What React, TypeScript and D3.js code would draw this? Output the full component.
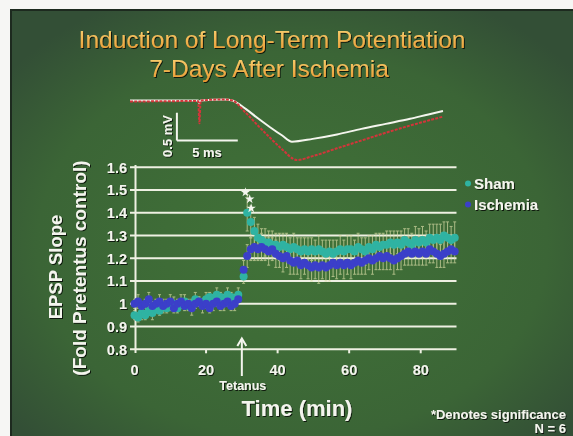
import React from "react";
import * as d3 from "d3";

// ---------- data ----------
const yTicks = [0.8, 0.9, 1.0, 1.1, 1.2, 1.3, 1.4, 1.5, 1.6];
const yTickLabels = ["0.8", "0.9", "1", "1.1", "1.2", "1.3", "1.4", "1.5", "1.6"];
const xTicks = [0, 20, 40, 60, 80];

const times = [
  0, 1, 2, 3, 4, 5, 6, 7, 8, 9, 10, 11, 12, 13, 14, 15, 16, 17, 18, 19,
  20, 21, 22, 23, 24, 25, 26, 27, 28, 29,
  30.5, 31.5, 32.5, 33.5, 34.5, 35.5, 36.5, 37.5, 38.5, 39.5,
  40.5, 41.5, 42.5, 43.5, 44.5, 45.5, 46.5, 47.5, 48.5, 49.5,
  50.5, 51.5, 52.5, 53.5, 54.5, 55.5, 56.5, 57.5, 58.5, 59.5,
  60.5, 61.5, 62.5, 63.5, 64.5, 65.5, 66.5, 67.5, 68.5, 69.5,
  70.5, 71.5, 72.5, 73.5, 74.5, 75.5, 76.5, 77.5, 78.5, 79.5,
  80.5, 81.5, 82.5, 83.5, 84.5, 85.5, 86.5, 87.5, 88.5, 89.5,
];

const shamValues = [
  0.95, 0.94, 0.96, 0.95, 0.97, 0.96, 0.98, 0.97, 0.99, 0.98,
  0.99, 1.0, 0.98, 1.0, 1.01, 0.99, 1.0, 1.02, 1.01, 1.0,
  1.02, 1.03, 1.02, 1.04, 1.03, 1.02, 1.04, 1.03, 1.02, 1.04,
  1.12, 1.4, 1.36, 1.32, 1.29, 1.28, 1.27, 1.27, 1.26, 1.26,
  1.25, 1.26, 1.25, 1.24, 1.25, 1.24, 1.23, 1.24, 1.23, 1.24,
  1.23, 1.24, 1.23, 1.22, 1.23, 1.22, 1.23, 1.24, 1.23, 1.24,
  1.24, 1.23, 1.25, 1.24, 1.23, 1.25, 1.24, 1.26, 1.25, 1.26,
  1.26, 1.27, 1.26, 1.27, 1.26, 1.28, 1.27, 1.26, 1.28, 1.27,
  1.28, 1.27, 1.29, 1.28, 1.29, 1.28, 1.3, 1.29, 1.28, 1.29,
];

const ischemiaValues = [
  1.0, 1.01, 0.99, 1.0, 1.02, 0.99, 1.0, 1.01, 0.99, 1.0,
  1.01, 0.98, 1.0, 1.01, 0.99, 1.0, 0.98, 1.0, 1.01, 0.99,
  1.0, 0.98, 1.0, 1.01, 0.99, 1.0, 1.01, 0.99, 1.0, 1.02,
  1.15, 1.21, 1.24, 1.25, 1.24, 1.25, 1.24, 1.23, 1.24, 1.22,
  1.21, 1.2, 1.21, 1.19, 1.18, 1.19, 1.17, 1.18, 1.17, 1.16,
  1.17, 1.16, 1.17, 1.16, 1.17, 1.18, 1.17, 1.18, 1.17, 1.18,
  1.17, 1.18, 1.19, 1.18, 1.19, 1.2, 1.19, 1.2, 1.21, 1.2,
  1.21, 1.2, 1.19, 1.2, 1.21, 1.22, 1.23, 1.22, 1.23, 1.22,
  1.23, 1.22, 1.24, 1.23, 1.22, 1.21, 1.22, 1.23, 1.24, 1.23,
];

const shamSem = [
  0.02, 0.02, 0.03, 0.02, 0.02, 0.03, 0.02, 0.02, 0.03, 0.02,
  0.02, 0.03, 0.02, 0.02, 0.03, 0.02, 0.02, 0.03, 0.02, 0.02,
  0.03, 0.02, 0.02, 0.03, 0.02, 0.02, 0.03, 0.02, 0.02, 0.03,
  0.03, 0.08, 0.07, 0.06, 0.06, 0.05, 0.06, 0.05, 0.06, 0.05,
  0.06, 0.05, 0.06, 0.05, 0.06, 0.05, 0.06, 0.05, 0.06, 0.05,
  0.05, 0.06, 0.05, 0.06, 0.05, 0.06, 0.05, 0.06, 0.05, 0.06,
  0.06, 0.05, 0.06, 0.05, 0.06, 0.05, 0.06, 0.05, 0.06, 0.05,
  0.06, 0.05, 0.06, 0.05, 0.06, 0.05, 0.06, 0.05, 0.06, 0.06,
  0.06, 0.05, 0.06, 0.07, 0.06, 0.07, 0.06, 0.07, 0.06, 0.07,
];

const ischemiaSem = [
  0.02, 0.03, 0.02, 0.02, 0.03, 0.02, 0.02, 0.03, 0.02, 0.02,
  0.03, 0.02, 0.02, 0.03, 0.02, 0.02, 0.03, 0.02, 0.02, 0.03,
  0.02, 0.02, 0.03, 0.02, 0.02, 0.03, 0.02, 0.02, 0.03, 0.02,
  0.04, 0.05, 0.05, 0.06, 0.05, 0.06, 0.05, 0.06, 0.05, 0.06,
  0.05, 0.06, 0.05, 0.06, 0.05, 0.06, 0.06, 0.05, 0.06, 0.06,
  0.06, 0.07, 0.06, 0.06, 0.07, 0.06, 0.06, 0.05, 0.06, 0.05,
  0.06, 0.05, 0.06, 0.05, 0.06, 0.05, 0.06, 0.05, 0.06, 0.05,
  0.06, 0.05, 0.06, 0.05, 0.06, 0.05, 0.06, 0.05, 0.06, 0.05,
  0.06, 0.05, 0.06, 0.05, 0.06, 0.05, 0.06, 0.05, 0.06, 0.05,
];

const starTimes = [31.0, 32.2, 32.6];
const starValues = [1.49, 1.46, 1.42];

const tetanusTime = 30;

// example field potential traces (ms, mV)
const traceControlMs = [0, 5.6, 5.7, 5.8, 7.8, 8.4, 9.5, 10.5, 11.5, 12.5, 13.3, 15, 17, 19, 21, 23, 24.5, 25.7];
const traceControlMv = [0, 0, -0.05, 0, 0.02, 0, -0.15, -0.32, -0.48, -0.63, -0.74, -0.69, -0.61, -0.51, -0.42, -0.33, -0.25, -0.19];
const tracePostMs = [0, 5.6, 5.7, 5.8, 7.8, 8.4, 9.5, 10.5, 11.5, 12.5, 13.7, 15, 17, 19, 21, 23, 24.5, 25.7];
const tracePostMv = [-0.02, -0.01, -0.41, 0, 0.02, 0, -0.22, -0.45, -0.67, -0.88, -1.07, -1.0, -0.86, -0.72, -0.58, -0.45, -0.36, -0.29];

const legendLabels = ["Sham", "Ischemia"];

const SHAM = "#2fb3a2";
const ISCH = "#3b3fc9";
const WHITE = "#f4f5ee";

export default function App() {
  const W = 573;
  const H = 436;

  const x = d3.scaleLinear().domain([0, 90]).range([134.5, 456.5]);
  const y = d3.scaleLinear().domain([0.8, 1.6]).range([349.3, 167.3]);

  const trX = d3.scaleLinear().domain([0, 25.7]).range([130, 443]);
  const trY = d3.scaleLinear().domain([0, -1.07]).range([100.5, 160]);
  const traceLine = d3
    .line<[number, number]>()
    .x((d) => trX(d[0]))
    .y((d) => trY(d[1]))
    .curve(d3.curveMonotoneX);
  const ctrlPts = traceControlMs.map((t, i) => [t, traceControlMv[i]] as [number, number]);
  const postPts = tracePostMs.map((t, i) => [t, tracePostMv[i]] as [number, number]);

  const star = d3.symbol().type(d3.symbolStar).size(28)() as string;

  const sans = "'Liberation Sans', Arial, sans-serif";

  const series = [
    { vals: shamValues, sem: shamSem, color: SHAM },
    { vals: ischemiaValues, sem: ischemiaSem, color: ISCH },
  ];

  return (
    <svg width={W} height={H} style={{ position: "absolute", left: 0, top: 0 }} fontFamily={sans}>
      <defs>
        <radialGradient id="bg" cx="50%" cy="55%" r="65%">
          <stop offset="0%" stopColor="#417338" />
          <stop offset="70%" stopColor="#3b6536" />
          <stop offset="100%" stopColor="#334f36" />
        </radialGradient>
        <linearGradient id="gold" x1="0" y1="0" x2="0" y2="1">
          <stop offset="0%" stopColor="#fbd677" />
          <stop offset="100%" stopColor="#e8962e" />
        </linearGradient>
        <filter id="sh" x="-10%" y="-10%" width="120%" height="130%">
          <feDropShadow dx="1" dy="1" stdDeviation="0.6" floodColor="#000" floodOpacity="0.75" />
        </filter>
      </defs>

      {/* page frame */}
      <rect x={0} y={0} width={W} height={H} fill="#f6f6f4" />
      <rect x={10} y={9} width={W - 10} height={H - 9} fill="#1d2a1f" />
      <rect x={12} y={11} width={W - 12} height={H - 11} fill="url(#bg)" />

      {/* title */}
      <g filter="url(#sh)" fontSize={24.5} fill="url(#gold)" textAnchor="middle">
        <text x={272} y={48}>Induction of Long-Term Potentiation</text>
        <text x={269} y={77}>7-Days After Ischemia</text>
      </g>

      {/* traces */}
      <path d={traceLine(ctrlPts) || ""} fill="none" stroke={WHITE} strokeWidth={2} />
      <path
        d={traceLine(postPts) || ""}
        fill="none"
        stroke="#d2353a"
        strokeWidth={2}
        strokeDasharray="3 1.2"
      />
      {/* scale bar */}
      <g stroke={WHITE} strokeWidth={2} fill="none">
        <line x1={trX(3.85)} x2={trX(3.85)} y1={trY(-0.22)} y2={trY(-0.72)} />
        <line x1={trX(3.85)} x2={trX(3.85 + 5)} y1={trY(-0.72)} y2={trY(-0.72)} />
      </g>
      <g filter="url(#sh)" fill={WHITE} fontWeight="bold" fontSize={13}>
        <text transform={`translate(${172},${136}) rotate(-90)`} textAnchor="middle">0.5 mV</text>
        <text x={207} y={157} textAnchor="middle">5 ms</text>
      </g>

      {/* grid lines */}
      <g stroke="#eef0e2" strokeWidth={2}>
        {yTicks.map((t) => (
          <line key={t} x1={130} x2={x(90)} y1={y(t)} y2={y(t)} />
        ))}
        <line x1={135.5} x2={135.5} y1={165} y2={353} />
        {xTicks.slice(1).map((t) => (
          <line key={t} x1={x(t)} x2={x(t)} y1={y(0.8)} y2={y(0.8) + 4} />
        ))}
      </g>

      {/* error bars */}
      <g stroke="#d9dca6" strokeWidth={1} opacity={0.7}>
        {series.map((s, si) =>
          s.vals.map((v, i) => (
            <g key={`${si}-${i}`}>
              <line x1={x(times[i])} x2={x(times[i])} y1={y(v - s.sem[i])} y2={y(v + s.sem[i])} />
              <line x1={x(times[i]) - 1.5} x2={x(times[i]) + 1.5} y1={y(v + s.sem[i])} y2={y(v + s.sem[i])} />
              <line x1={x(times[i]) - 1.5} x2={x(times[i]) + 1.5} y1={y(v - s.sem[i])} y2={y(v - s.sem[i])} />
            </g>
          ))
        )}
      </g>

      {/* points */}
      {series.map((s, si) => (
        <g key={si} fill={s.color}>
          {s.vals.map((v, i) => (
            <circle key={i} cx={x(times[i])} cy={y(v)} r={4} />
          ))}
        </g>
      ))}

      {/* significance stars */}
      <g fill={WHITE}>
        {starTimes.map((t, i) => (
          <path key={i} d={star} transform={`translate(${x(t)},${y(starValues[i])})`} />
        ))}
      </g>

      {/* tick labels */}
      <g filter="url(#sh)" fill={WHITE} fontWeight="bold" fontSize={14.5}>
        {yTicks.map((t, i) => (
          <text key={t} x={127} y={y(t)} dy="0.36em" textAnchor="end">
            {yTickLabels[i]}
          </text>
        ))}
        {xTicks.map((t) => (
          <text key={t} x={x(t)} y={375} textAnchor="middle">
            {t}
          </text>
        ))}
      </g>

      {/* axis titles */}
      <g filter="url(#sh)" fill={WHITE} fontWeight="bold">
        <text transform={`translate(${62},${267}) rotate(-90)`} textAnchor="middle" fontSize={18.5}>
          EPSP Slope
        </text>
        <text transform={`translate(${86},${268}) rotate(-90)`} textAnchor="middle" fontSize={19}>
          (Fold Pretentus control)
        </text>
        <text x={297} y={416} textAnchor="middle" fontSize={22}>
          Time (min)
        </text>
      </g>

      {/* tetanus arrow */}
      <g stroke={WHITE} strokeWidth={2} fill="none">
        <line x1={x(tetanusTime)} x2={x(tetanusTime)} y1={376} y2={339} />
        <polyline
          points={`${x(tetanusTime) - 4.5},${346} ${x(tetanusTime)},${338.5} ${x(tetanusTime) + 4.5},${346}`}
        />
      </g>
      <text
        filter="url(#sh)"
        x={x(tetanusTime) + 1}
        y={390}
        textAnchor="middle"
        fontSize={12.5}
        fontWeight="bold"
        fill={WHITE}
      >
        Tetanus
      </text>

      {/* legend */}
      <g>
        {legendLabels.map((lab, i) => (
          <g key={lab}>
            <circle cx={468} cy={183.5 + i * 21} r={3} fill={i === 0 ? SHAM : ISCH} />
            <text
              filter="url(#sh)"
              x={474}
              y={189 + i * 21}
              fontSize={15}
              fontWeight="bold"
              fill={WHITE}
            >
              {lab}
            </text>
          </g>
        ))}
      </g>

      {/* footnote */}
      <g filter="url(#sh)" fill={WHITE} fontWeight="bold" fontSize={13} textAnchor="end">
        <text x={566} y={419}>*Denotes significance</text>
        <text x={566} y={433}>N = 6</text>
      </g>
    </svg>
  );
}
